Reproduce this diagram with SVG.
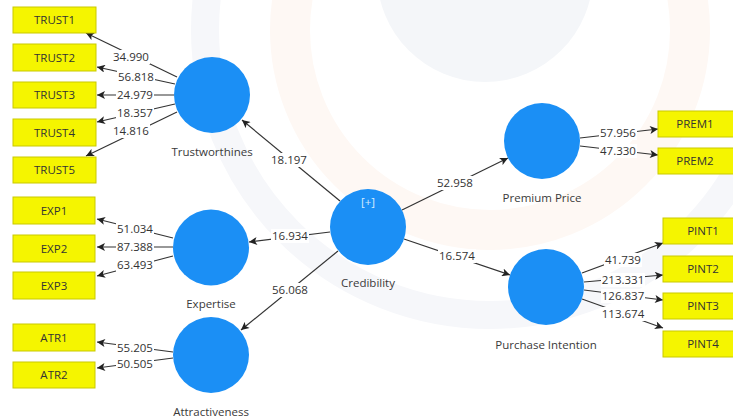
<svg xmlns="http://www.w3.org/2000/svg" width="733" height="419" viewBox="0 0 733 419">
<defs>
<style>
.bg{fill:#ffffff}
.box{fill:#f5f500;stroke:#c9c900;stroke-width:1}
.btxt{font-family:"Open Sans","Liberation Sans",sans-serif;font-size:11.5px;fill:#333333;text-anchor:middle}
.lv{fill:#1b8ff5}
.lvtxt{font-family:"Open Sans","Liberation Sans",sans-serif;font-size:11.5px;fill:#3a3a3a;text-anchor:middle}
.edge{stroke:#333333;stroke-width:1.2;fill:none;marker-end:url(#arr)}
.lblbg{fill:#ffffff}
.lbl{font-family:"Open Sans","Liberation Sans",sans-serif;font-size:11.5px;fill:#333333;text-anchor:middle}
</style>
<marker id="arr" viewBox="0 0 10 10" refX="10" refY="5" markerWidth="9" markerHeight="8" markerUnits="userSpaceOnUse" orient="auto">
<path d="M0,0 L10,5 L0,10 L2.5,5 z" fill="#222222"/>
</marker>
</defs>
<rect class="bg" x="0" y="0" width="733" height="419"/>
<g id="watermark">
<circle cx="490" cy="30" r="285" fill="none" stroke="#f6f7fa" stroke-width="28"/>
<circle cx="490" cy="30" r="200" fill="none" stroke="#fef8f4" stroke-width="40"/>
<circle cx="485" cy="-26" r="108" fill="#f4f6f9"/>
</g>
<g id="connectors">
<line class="edge" x1="177" y1="77" x2="86" y2="33"/>
<line class="edge" x1="175" y1="84" x2="97" y2="67"/>
<line class="edge" x1="174" y1="95" x2="97" y2="95"/>
<line class="edge" x1="175" y1="104" x2="97" y2="122"/>
<line class="edge" x1="177" y1="112" x2="86" y2="156"/>
<line class="edge" x1="173" y1="238" x2="97" y2="219"/>
<line class="edge" x1="173" y1="247" x2="97" y2="247"/>
<line class="edge" x1="173" y1="256" x2="97" y2="276"/>
<line class="edge" x1="173" y1="352" x2="97" y2="342"/>
<line class="edge" x1="173" y1="358" x2="97" y2="368"/>
<line class="edge" x1="340" y1="201" x2="242" y2="120"/>
<line class="edge" x1="330" y1="232" x2="249" y2="242"/>
<line class="edge" x1="338" y1="251" x2="241" y2="330"/>
<line class="edge" x1="402" y1="210" x2="508" y2="158"/>
<line class="edge" x1="404" y1="239" x2="510" y2="275"/>
<line class="edge" x1="580" y1="138" x2="658" y2="129"/>
<line class="edge" x1="580" y1="146" x2="658" y2="155"/>
<line class="edge" x1="582" y1="273" x2="663" y2="243"/>
<line class="edge" x1="584" y1="282" x2="663" y2="275"/>
<line class="edge" x1="584" y1="290" x2="663" y2="300"/>
<line class="edge" x1="582" y1="299" x2="663" y2="328"/>
<g id="edge-labels">
<rect class="lblbg" x="112" y="50" width="38" height="14"/><text class="lbl" x="131" y="61">34.990</text>
<rect class="lblbg" x="117" y="70" width="38" height="14"/><text class="lbl" x="136" y="81">56.818</text>
<rect class="lblbg" x="116" y="88" width="38" height="14"/><text class="lbl" x="135" y="99">24.979</text>
<rect class="lblbg" x="116" y="106" width="38" height="14"/><text class="lbl" x="135" y="117">18.357</text>
<rect class="lblbg" x="112" y="124" width="38" height="14"/><text class="lbl" x="131" y="135">14.816</text>
<rect class="lblbg" x="116" y="222" width="38" height="14"/><text class="lbl" x="135" y="233">51.034</text>
<rect class="lblbg" x="116" y="240" width="38" height="14"/><text class="lbl" x="135" y="251">87.388</text>
<rect class="lblbg" x="116" y="258" width="38" height="14"/><text class="lbl" x="135" y="269">63.493</text>
<rect class="lblbg" x="116" y="341" width="38" height="14"/><text class="lbl" x="135" y="352">55.205</text>
<rect class="lblbg" x="116" y="357" width="38" height="14"/><text class="lbl" x="135" y="368">50.505</text>
<rect class="lblbg" x="270" y="153" width="38" height="14"/><text class="lbl" x="289" y="164">18.197</text>
<rect class="lblbg" x="271" y="229" width="38" height="14"/><text class="lbl" x="290" y="240">16.934</text>
<rect class="lblbg" x="271" y="283" width="38" height="14"/><text class="lbl" x="290" y="294">56.068</text>
<rect class="lblbg" x="436" y="176" width="38" height="14"/><text class="lbl" x="455" y="187">52.958</text>
<rect class="lblbg" x="438" y="249" width="38" height="14"/><text class="lbl" x="457" y="260">16.574</text>
<rect class="lblbg" x="599" y="126" width="38" height="14"/><text class="lbl" x="618" y="137">57.956</text>
<rect class="lblbg" x="599" y="144" width="38" height="14"/><text class="lbl" x="618" y="155">47.330</text>
<rect class="lblbg" x="604" y="253" width="38" height="14"/><text class="lbl" x="623" y="264">41.739</text>
<rect class="lblbg" x="601" y="273" width="44" height="14"/><text class="lbl" x="623" y="284">213.331</text>
<rect class="lblbg" x="601" y="289" width="44" height="14"/><text class="lbl" x="623" y="300">126.837</text>
<rect class="lblbg" x="601" y="307" width="44" height="14"/><text class="lbl" x="623" y="318">113.674</text>
</g>
</g>
<g id="TRUST1"><rect class="box" x="13" y="7" width="83" height="26"/><text class="btxt" x="54.5" y="24">TRUST1</text></g>
<g id="TRUST2"><rect class="box" x="13" y="44" width="83" height="27"/><text class="btxt" x="54.5" y="61.5">TRUST2</text></g>
<g id="TRUST3"><rect class="box" x="13" y="82" width="83" height="26"/><text class="btxt" x="54.5" y="99">TRUST3</text></g>
<g id="TRUST4"><rect class="box" x="13" y="119" width="83" height="27"/><text class="btxt" x="54.5" y="136.5">TRUST4</text></g>
<g id="TRUST5"><rect class="box" x="13" y="157" width="83" height="26"/><text class="btxt" x="54.5" y="174">TRUST5</text></g>
<g id="EXP1"><rect class="box" x="13" y="197" width="82" height="27"/><text class="btxt" x="54" y="214.5">EXP1</text></g>
<g id="EXP2"><rect class="box" x="13" y="235" width="82" height="27"/><text class="btxt" x="54" y="252.5">EXP2</text></g>
<g id="EXP3"><rect class="box" x="13" y="272" width="82" height="27"/><text class="btxt" x="54" y="289.5">EXP3</text></g>
<g id="ATR1"><rect class="box" x="13" y="324" width="82" height="27"/><text class="btxt" x="54" y="341.5">ATR1</text></g>
<g id="ATR2"><rect class="box" x="13" y="362" width="82" height="26"/><text class="btxt" x="54" y="379">ATR2</text></g>
<g id="PREM1"><rect class="box" x="658" y="111" width="83" height="26"/><text class="btxt" x="695" y="128">PREM1</text></g>
<g id="PREM2"><rect class="box" x="658" y="148" width="83" height="26"/><text class="btxt" x="695" y="165">PREM2</text></g>
<g id="PINT1"><rect class="box" x="663" y="218" width="83" height="26"/><text class="btxt" x="703" y="235">PINT1</text></g>
<g id="PINT2"><rect class="box" x="663" y="256" width="83" height="26"/><text class="btxt" x="703" y="273">PINT2</text></g>
<g id="PINT3"><rect class="box" x="663" y="293" width="83" height="26"/><text class="btxt" x="703" y="310">PINT3</text></g>
<g id="PINT4"><rect class="box" x="663" y="331" width="83" height="26"/><text class="btxt" x="703" y="348">PINT4</text></g>
<g id="Trustworthines"><circle class="lv" cx="212" cy="95" r="38"/><text class="lvtxt" x="212" y="156">Trustworthines</text></g>
<g id="Expertise"><circle class="lv" cx="211" cy="247.5" r="38"/><text class="lvtxt" x="211" y="308">Expertise</text></g>
<g id="Attractiveness"><circle class="lv" cx="211" cy="355" r="38"/><text class="lvtxt" x="211" y="416">Attractiveness</text></g>
<g id="Credibility"><circle class="lv" cx="368" cy="227" r="38"/><text class="lvtxt" x="368" y="206" style="fill:#d8ecff">[+]</text><text class="lvtxt" x="368" y="287">Credibility</text></g>
<g id="PremiumPrice"><circle class="lv" cx="542" cy="141" r="38"/><text class="lvtxt" x="542" y="202">Premium Price</text></g>
<g id="PurchaseIntention"><circle class="lv" cx="546" cy="287" r="38"/><text class="lvtxt" x="546" y="349">Purchase Intention</text></g>
</svg>
